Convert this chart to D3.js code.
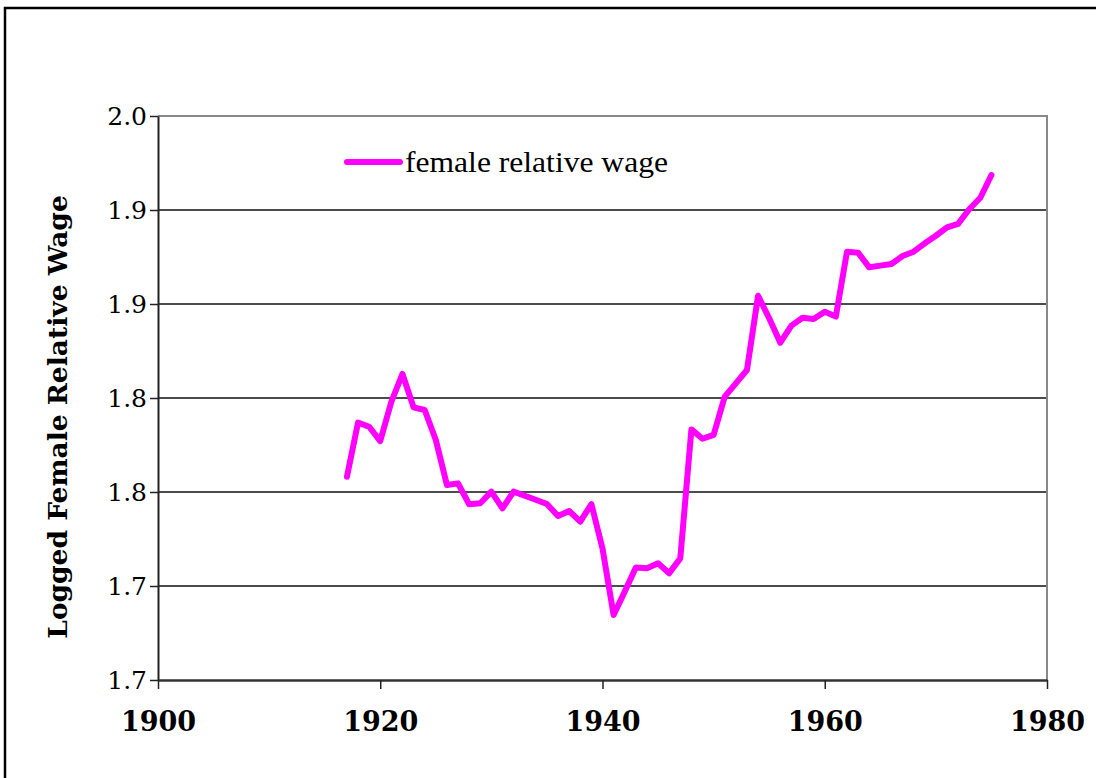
<!DOCTYPE html>
<html>
<head>
<meta charset="utf-8">
<script src="https://cdn.jsdelivr.net/npm/d3@7"></script>
<style>
  body { margin: 0; background: #fff; }
  svg { display: block; }
</style>
</head>
<body>
<svg id="chart" width="1096" height="778"></svg>
<script>
// data
var years = [1917, 1918, 1919, 1920, 1921, 1922, 1923, 1924, 1925, 1926,
  1927, 1928, 1929, 1930, 1931, 1932, 1933, 1934, 1935, 1936,
  1937, 1938, 1939, 1940, 1941, 1942, 1943, 1944, 1945, 1946,
  1947, 1948, 1949, 1950, 1951, 1952, 1953, 1954, 1955, 1956,
  1957, 1958, 1959, 1960, 1961, 1962, 1963, 1964, 1965, 1966,
  1967, 1968, 1969, 1970, 1971, 1972, 1973, 1974, 1975];
var wage = [1.8081, 1.8369, 1.8347, 1.8271, 1.8480, 1.8628, 1.8450, 1.8436, 1.8277, 1.8037,
  1.8046, 1.7935, 1.7940, 1.8002, 1.7913, 1.8002, 1.7980, 1.7959, 1.7936, 1.7872,
  1.7899, 1.7842, 1.7936, 1.7700, 1.7346, 1.7470, 1.7599, 1.7594, 1.7621, 1.7568,
  1.7647, 1.8333, 1.8283, 1.8304, 1.8507, 1.8578, 1.8649, 1.9044, 1.8924, 1.8794,
  1.8885, 1.8927, 1.8920, 1.8959, 1.8933, 1.9278, 1.9273, 1.9195, 1.9204, 1.9213,
  1.9255, 1.9278, 1.9323, 1.9363, 1.9408, 1.9426, 1.9504, 1.9565, 1.9686];
var yTicks = [1.7, 1.75, 1.8, 1.85, 1.9, 1.95, 2.0];
var yTickLabels = ["1.7", "1.7", "1.8", "1.8", "1.9", "1.9", "2.0"];
var xTicks = [1900, 1920, 1940, 1960, 1980];
var seriesName = "female relative wage";
var yTitle = "Logged Female Relative Wage";

var margin = { top: 116, right: 49, bottom: 98, left: 158 };
var width = 1096;
var height = 778;

var svg = d3.select("#chart");

// outer frame
svg.append("rect")
  .attr("x", 5).attr("y", 8)
  .attr("width", 1100).attr("height", 800)
  .attr("fill", "none")
  .attr("stroke", "#000")
  .attr("stroke-width", 2.5);

var x = d3.scaleLinear()
  .domain([1900, 1980])
  .range([margin.left, width - margin.right]);
var y = d3.scaleLinear()
  .domain([1.7, 2.0])
  .range([height - margin.bottom, margin.top]);

// gridlines
svg.append("g")
  .selectAll("line")
  .data(yTicks.slice(1, -1))
  .join("line")
  .attr("x1", x(1900)).attr("x2", x(1980))
  .attr("y1", function (d) { return y(d); })
  .attr("y2", function (d) { return y(d); })
  .attr("stroke", "#111")
  .attr("stroke-width", 1.5);

// plot border top / right
svg.append("path")
  .attr("d", "M" + x(1900) + "," + y(2.0) + "H" + x(1980) + "V" + y(1.7))
  .attr("fill", "none")
  .attr("stroke", "#888")
  .attr("stroke-width", 2);

var yAxis = function (g) { return g
  .attr("transform", "translate(" + x(1900) + ",0)")
  .call(d3.axisLeft(y).tickValues(yTicks).tickSize(8).tickSizeOuter(0)
    .tickFormat(function (d, i) { return yTickLabels[i]; }))
  .call(function (g) { return g.select(".domain").attr("stroke", "#222").attr("stroke-width", 2); })
  .call(function (g) { return g.selectAll(".tick line").attr("stroke", "#222").attr("stroke-width", 1.5); })
  .selectAll("text")
  .attr("x", -11)
  .attr("fill", "#000")
  .style("font", "25px 'DejaVu Serif', serif"); };

var xAxis = function (g) { return g
  .attr("transform", "translate(0," + y(1.7) + ")")
  .call(d3.axisBottom(x).tickValues(xTicks).tickSize(9).tickSizeOuter(0).tickFormat(d3.format("d")))
  .call(function (g) { return g.select(".domain").attr("stroke", "#333").attr("stroke-width", 2.5); })
  .call(function (g) { return g.selectAll(".tick line").attr("stroke", "#222").attr("stroke-width", 1.5); })
  .selectAll("text")
  .attr("y", 32)
  .attr("dy", "0.71em")
  .attr("fill", "#000")
  .style("font", "bold 27px 'DejaVu Serif', serif"); };

svg.append("g").call(yAxis);
svg.append("g").call(xAxis);

// y axis title
svg.append("text")
  .attr("transform", "translate(67," + 417 + ") rotate(-90)")
  .attr("text-anchor", "middle")
  .style("font", "bold 26.5px 'DejaVu Serif', serif")
  .text(yTitle);

// series line
var data = years.map(function (yr, i) { return { year: yr, value: wage[i] }; });
var line = d3.line()
  .x(function (d) { return x(d.year); })
  .y(function (d) { return y(d.value); });

svg.append("path")
  .datum(data)
  .attr("d", line)
  .attr("fill", "none")
  .attr("stroke", "#ff00ff")
  .attr("stroke-width", 6)
  .attr("stroke-linejoin", "round")
  .attr("stroke-linecap", "round");

// legend
var legend = svg.append("g").attr("transform", "translate(347,162)");
legend.append("line")
  .attr("x1", 0).attr("x2", 53)
  .attr("y1", 0).attr("y2", 0)
  .attr("stroke", "#ff00ff")
  .attr("stroke-width", 6)
  .attr("stroke-linecap", "round");
legend.append("text")
  .attr("x", 58)
  .attr("y", 10)
  .attr("textLength", 263)
  .attr("lengthAdjust", "spacingAndGlyphs")
  .style("font", "29px 'Liberation Serif', serif")
  .text(seriesName);
</script>
</body>
</html>
